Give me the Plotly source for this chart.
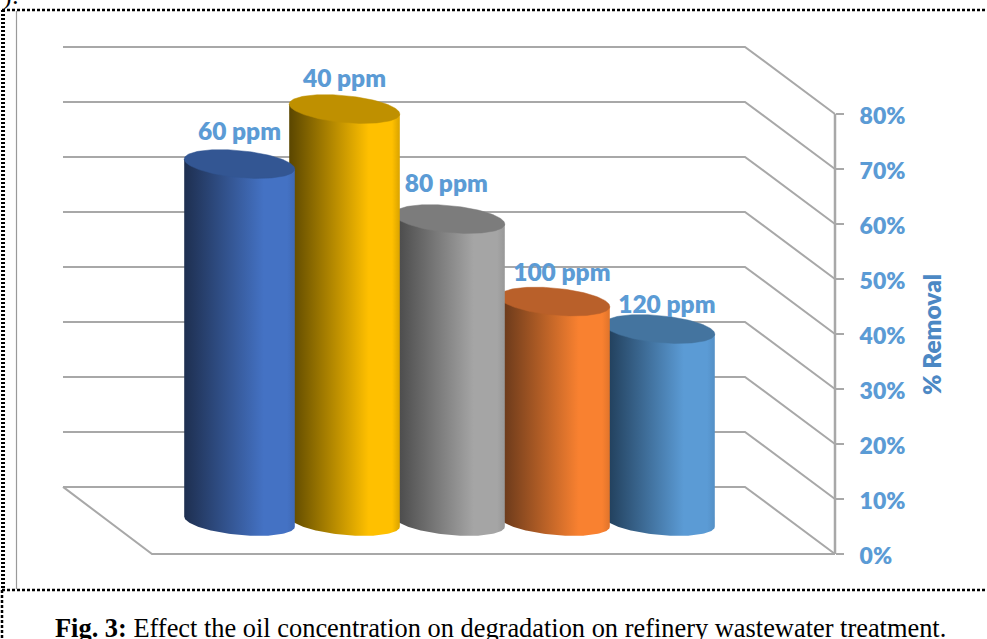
import numpy as np
import plotly.graph_objects as go

# ---- data ----
categories = ["60 ppm", "40 ppm", "80 ppm", "100 ppm", "120 ppm"]
removal = [65, 75, 55, 40, 35]
y_ticks = [0, 10, 20, 30, 40, 50, 60, 70, 80]
y_tick_text = ["0%", "10%", "20%", "30%", "40%", "50%", "60%", "70%", "80%"]
axis_title = "% Removal"

body_dark = ["#1E2F50", "#5A4600", "#474747", "#63361A", "#1F3B56"]
body_mid = ["#4472C4", "#FFC000", "#A5A5A5", "#F98130", "#5B9BD5"]
body_edge = ["#3F69B5", "#D9A300", "#989898", "#E0742B", "#5490C6"]
cap_color = ["#335693", "#BF9000", "#7C7C7C", "#B9602A", "#44749F"]
label_dx = [0.0, 0.0, -0.03, 0.07, 0.07]
label_dy = [3.0, 2.7, 3.6, 2.45, 1.65]

# ---- page geometry ----
W, H = 987, 639
Y0_PX, PX_PER_UNIT = 554.0, 5.5
X0_PX, PX_PER_CAT = 239.5, 105.0
AXIS_PX, BACK_RIGHT_PX, BACK_LEFT_PX, FRONT_LEFT_PX = 835.0, 745.0, 63.0, 152.0
DEPTH = 12.2       # back wall rise, axis units
BASE = 5.9         # cylinder base rise, axis units
HALF_W = 55.3 / PX_PER_CAT
CAP_B = 13.5 / PX_PER_UNIT
CAP_K = 5.0 / PX_PER_UNIT
BLUE = "#5B9BD5"
GREY = "#A8A8A8"


def cat_x(px):
    return (px - X0_PX) / PX_PER_CAT


fig = go.Figure()


def line(xs, ys, color=GREY, width=2):
    fig.add_trace(go.Scatter(x=xs, y=ys, mode="lines", hoverinfo="skip",
                             line=dict(color=color, width=width)))


# walls and floor
for v in y_ticks:
    line([cat_x(BACK_LEFT_PX), cat_x(BACK_RIGHT_PX), cat_x(AXIS_PX)],
         [v + DEPTH, v + DEPTH, v], width=2)
line([cat_x(BACK_LEFT_PX), cat_x(FRONT_LEFT_PX), cat_x(AXIS_PX)], [DEPTH, 0, 0], width=2)
line([cat_x(AXIS_PX)] * 2, [y_ticks[0], y_ticks[-1]], width=2.5)

# cylinders, right to left so that each one sits in front of its right neighbour
t_low = np.linspace(np.pi, 0, 90)
t_all = np.linspace(0, 2 * np.pi, 160)
for i in range(len(categories) - 1, -1, -1):
    v = removal[i]
    xs = i + HALF_W * np.cos(t_low)
    ys = BASE - CAP_B * np.sin(t_low) - CAP_K * np.cos(t_low)
    body_x = np.r_[xs, i + HALF_W, i - HALF_W, xs[0]]
    body_y = np.r_[ys, BASE + v - CAP_K, BASE + v + CAP_K, ys[0]]
    fig.add_trace(go.Scatter(
        x=body_x, y=body_y, mode="lines", fill="toself", hoverinfo="skip",
        line=dict(width=0),
        fillgradient=dict(type="horizontal", start=i - HALF_W, stop=i + HALF_W,
                          colorscale=[[0, body_dark[i]], [0.72, body_mid[i]],
                                      [0.93, body_mid[i]], [1, body_edge[i]]])))
    fig.add_trace(go.Scatter(
        x=i + HALF_W * np.cos(t_all),
        y=BASE + v + CAP_B * np.sin(t_all) - CAP_K * np.cos(t_all),
        mode="lines", fill="toself", fillcolor=cap_color[i], hoverinfo="skip",
        line=dict(width=0.5, color=cap_color[i])))

# data labels
fig.add_trace(go.Scatter(
    x=[i + label_dx[i] for i in range(len(categories))],
    y=[BASE + removal[i] + CAP_B + label_dy[i] for i in range(len(categories))],
    text=categories, mode="text", textposition="middle center", hoverinfo="skip",
    textfont=dict(family="Lato", size=24.5, color=BLUE, weight=800)))


def px_x(p):
    return p / W


def px_y(p):
    return 1 - p / H


def frame(x0, y0, x1, y1, width, dash):
    return dict(type="line", xref="paper", yref="paper", x0=px_x(x0), x1=px_x(x1),
                y0=px_y(y0), y1=px_y(y1),
                line=dict(color="black", width=width, dash=dash))


fig.update_layout(
    width=W, height=H, margin=dict(l=0, r=0, t=0, b=0),
    paper_bgcolor="white", plot_bgcolor="rgba(0,0,0,0)", showlegend=False,
    xaxis=dict(range=[cat_x(0), cat_x(W)], visible=False, fixedrange=True),
    yaxis=dict(range=[(Y0_PX - H) / PX_PER_UNIT, Y0_PX / PX_PER_UNIT],
               side="right", anchor="free", position=AXIS_PX / W,
               tickmode="array", tickvals=y_ticks, ticktext=y_tick_text,
               showgrid=False, zeroline=False,
               showline=False, ticks="outside", ticklen=8, tickwidth=1.5,
               tickcolor=GREY, ticklabelstandoff=11, ticklabelshift=2, fixedrange=True,
               tickfont=dict(family="Lato", size=23, color=BLUE, weight=800)),
    shapes=[
        frame(16.5, 11, 16.5, 589, 1.2, "solid") | dict(line=dict(color="#9A9A9A", width=1.2)),
        frame(2, 10, W, 10, 2.5, "3px,2px"),
        frame(2, 590, W, 590, 2.5, "3px,2px"),
        frame(3, 10, 3, 590, 4, "2px,2px"),
        frame(2, 590, 2, H, 2.5, "3px,2px"),
    ],
    annotations=[
        dict(text=axis_title, x=px_x(931), y=px_y(335), xref="paper", yref="paper",
             textangle=-90, showarrow=False, yanchor="middle", xanchor="center",
             font=dict(family="Lato", size=24.5, color="#4C88C4", weight=800)),
        dict(text="<b>Fig. 3:</b> Effect the oil concentration on degradation on refinery wastewater treatment.",
             x=px_x(500), y=px_y(628), xref="paper", yref="paper", showarrow=False,
             yanchor="middle", xanchor="center",
             font=dict(family="Liberation Serif", size=26.4, color="black")),
        dict(text="):", x=px_x(11), y=px_y(-5), xref="paper", yref="paper", showarrow=False,
             yanchor="middle", xanchor="center",
             font=dict(family="Liberation Serif", size=26, color="black")),
    ],
)

fig.write_html("out.html", config=dict(displayModeBar=False),
               post_script="document.body.style.margin='0';document.body.style.overflow='hidden';")
